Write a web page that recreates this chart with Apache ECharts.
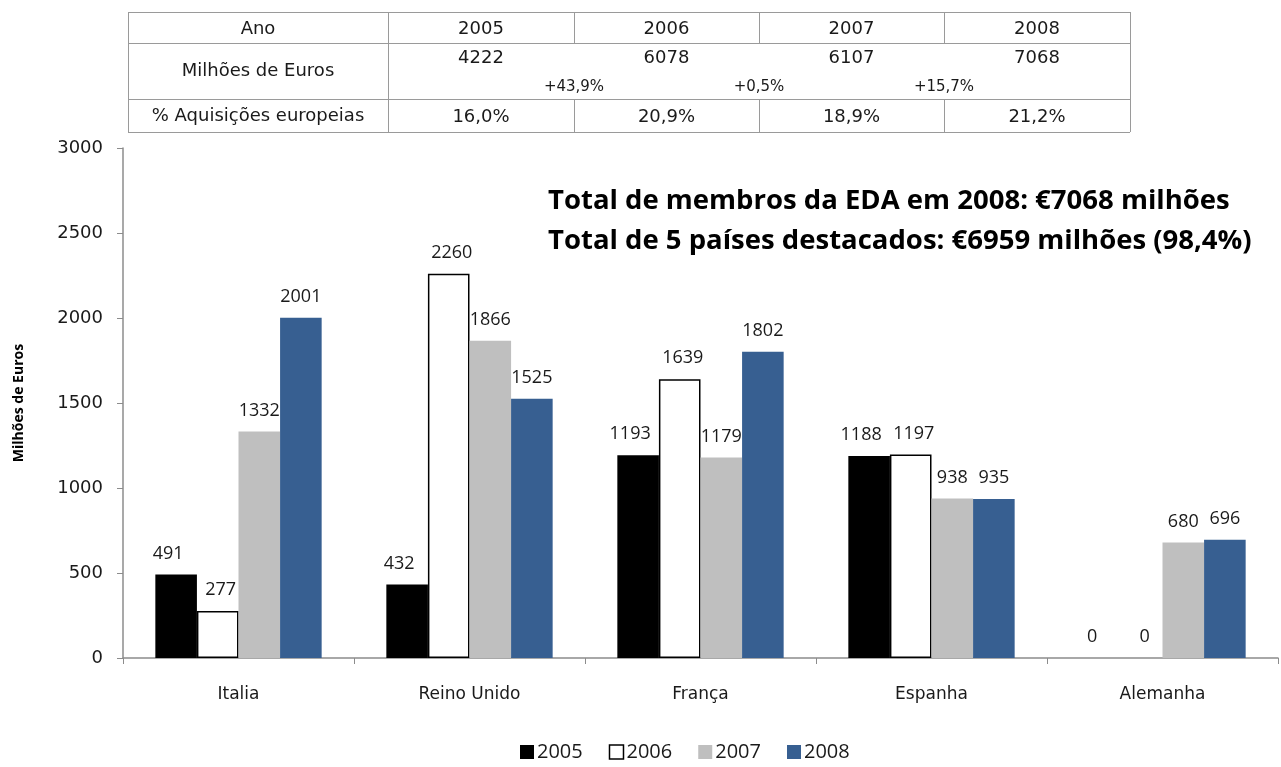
<!DOCTYPE html>
<html>
<head>
<meta charset="utf-8">
<script src="https://cdn.jsdelivr.net/npm/echarts@6/dist/echarts.min.js"></script>
<style>
  html, body { margin: 0; padding: 0; background: #fff; }
  #main { width: 1281px; height: 767px; }
</style>
</head>
<body>
<div id="main"></div>
<script>
// dados do grafico
var paises = ['Italia', 'Reino Unido', 'França', 'Espanha', 'Alemanha'];
var anos = ['2005', '2006', '2007', '2008'];
var v2005 = [491, 432, 1193, 1188, 0];
var v2006 = [277, 2260, 1639, 1197, 0];
var v2007 = [1332, 1866, 1179, 938, 680];
var v2008 = [2001, 1525, 1802, 935, 696];

// tabela de cima
var tabLinha1 = 'Ano';
var tabLinha2 = 'Milhões de Euros';
var tabLinha3 = '% Aquisições europeias';
var tabMilhoes = ['4222', '6078', '6107', '7068'];
var tabVariacao = ['+43,9%', '+0,5%', '+15,7%'];
var tabPercent = ['16,0%', '20,9%', '18,9%', '21,2%'];

var notas = [
  'Total de membros da EDA em 2008: €7068 milhões',
  'Total de 5 países destacados: €6959 milhões (98,4%)'
];

var myChart = echarts.init(document.getElementById('main'));

// monta a tabela com graphic
function montaTabela() {
  var x0 = 128, y0 = 12;
  var cols = [260, 186, 185, 185, 186];
  var rows = [31, 56, 33];
  var els = [];
  var lineStyle = { stroke: '#9a9a9a', lineWidth: 1 };
  var xs = [x0];
  for (var i = 0; i < cols.length; i++) xs.push(xs[i] + cols[i]);
  var ys = [y0];
  for (var j = 0; j < rows.length; j++) ys.push(ys[j] + rows[j]);
  var W = xs[xs.length - 1];
  // horizontais
  ys.forEach(function (y) {
    els.push({ type: 'line', shape: { x1: x0, y1: y + 0.5, x2: W, y2: y + 0.5 }, style: lineStyle });
  });
  // verticais
  xs.forEach(function (x, k) {
    if (k === 0 || k === 1 || k === xs.length - 1) {
      els.push({ type: 'line', shape: { x1: x + 0.5, y1: ys[0], x2: x + 0.5, y2: ys[3] }, style: lineStyle });
    } else {
      els.push({ type: 'line', shape: { x1: x + 0.5, y1: ys[0], x2: x + 0.5, y2: ys[1] }, style: lineStyle });
      els.push({ type: 'line', shape: { x1: x + 0.5, y1: ys[2], x2: x + 0.5, y2: ys[3] }, style: lineStyle });
    }
  });
  var font = '18px "DejaVu Sans", sans-serif';
  function txt(s, x, y, f) {
    els.push({ type: 'text', x: x, y: y, style: { text: s, font: f || font, fill: '#1a1a1a', align: 'center', verticalAlign: 'middle' } });
  }
  var c0 = (xs[0] + xs[1]) / 2;
  txt(tabLinha1, c0, 29);
  txt(tabLinha2, c0, 71);
  txt(tabLinha3, c0, 116);
  for (var a = 0; a < anos.length; a++) {
    var cx = (xs[a + 1] + xs[a + 2]) / 2;
    txt(anos[a], cx, 29);
    txt(tabMilhoes[a], cx, 58);
    txt(tabPercent[a], cx, 117);
  }
  for (var b = 0; b < tabVariacao.length; b++) {
    txt(tabVariacao[b], xs[b + 2], 87, '15px "DejaVu Sans", sans-serif');
  }
  return els;
}

var graphics = montaTabela();
graphics.push({
  type: 'text', left: 548, top: 187,
  style: { text: notas[0], font: 'bold 27.5px "Open Sans", sans-serif', fill: '#000' }
});
graphics.push({
  type: 'text', left: 548, top: 227,
  style: { text: notas[1], font: 'bold 27.5px "Open Sans", sans-serif', fill: '#000' }
});

function labelCfg(dx) {
  return {
    show: true,
    position: 'top',
    distance: 12,
    offset: [dx, 0],
    color: '#1a1a1a',
    fontFamily: '"Open Sans", sans-serif',
    fontSize: 18
  };
}
var deslocLabel = [-8, 3, 0, 0];

var cores = ['#000000', '#ffffff', '#bfbfbf', '#375f91'];
var valores = [v2005, v2006, v2007, v2008];
var series = anos.map(function (ano, i) {
  return {
    name: ano,
    type: 'bar',
    // barra vazia sem contorno
    data: valores[i].map(function (v) {
      return v === 0 ? { value: v, itemStyle: { borderWidth: 0 } } : v;
    }),
    barGap: 0,
    barCategoryGap: '28%',
    itemStyle: i === 1 ? { color: '#ffffff', borderColor: '#000', borderWidth: 1.5 } : { color: cores[i] },
    label: labelCfg(deslocLabel[i])
  };
});

var option = {
  animation: false,
  color: cores,
  graphic: graphics,
  grid: { left: 123, right: 3, top: 148, bottom: 109 },
  legend: {
    bottom: 0,
    left: 515,
    itemWidth: 14,
    itemHeight: 14,
    itemGap: 26,
    icon: 'rect',
    textStyle: { fontSize: 20, color: '#1a1a1a', fontFamily: '"Open Sans", sans-serif', padding: [0, 0, 0, -2] },
    data: [
      { name: '2005', itemStyle: { color: '#000' } },
      { name: '2006', itemStyle: { color: '#fff', borderColor: '#000', borderWidth: 1.5 } },
      { name: '2007', itemStyle: { color: '#bfbfbf' } },
      { name: '2008', itemStyle: { color: '#375f91' } }
    ]
  },
  xAxis: {
    type: 'category',
    data: paises,
    axisLine: { lineStyle: { color: '#8c8c8c', width: 1.5 } },
    axisTick: { show: true, length: 6, lineStyle: { color: '#8c8c8c' } },
    axisLabel: { margin: 28, fontSize: 17, color: '#1a1a1a', fontFamily: '"DejaVu Sans", sans-serif' }
  },
  yAxis: {
    type: 'value',
    min: 0,
    max: 3000,
    interval: 500,
    name: 'Milhões de Euros',
    nameLocation: 'middle',
    nameGap: 97,
    nameTextStyle: { fontSize: 14, fontWeight: 'bold', color: '#000', fontFamily: '"Open Sans", sans-serif' },
    splitLine: { show: false },
    axisLine: { show: true, lineStyle: { color: '#8c8c8c', width: 1.5 } },
    axisTick: { show: true, length: 6, lineStyle: { color: '#8c8c8c' } },
    axisLabel: {
      margin: 20, fontSize: 18, color: '#1a1a1a', fontFamily: '"DejaVu Sans", sans-serif',
      formatter: function (v) { return String(v); }
    }
  },
  series: series
};
myChart.setOption(option);
</script>
</body>
</html>
